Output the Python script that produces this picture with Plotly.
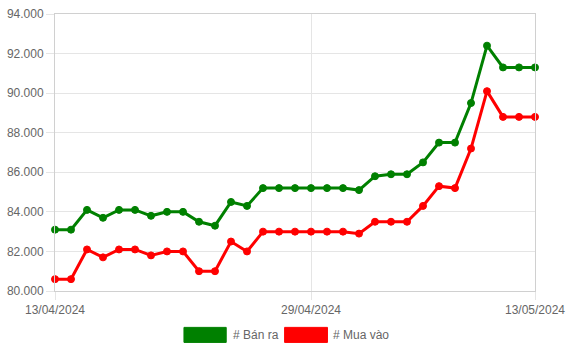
import pandas as pd
import plotly.graph_objects as go

dates = pd.date_range("2024-04-13", "2024-05-13", freq="D")

ban_ra = [83100, 83100, 84100, 83700, 84100, 84100, 83800, 84000, 84000, 83500,
          83300, 84500, 84300, 85200, 85200, 85200, 85200, 85200, 85200, 85100,
          85800, 85900, 85900, 86500, 87500, 87500, 89500, 92400, 91300, 91300, 91300]
mua_vao = [80600, 80600, 82100, 81700, 82100, 82100, 81800, 82000, 82000, 81000,
           81000, 82500, 82000, 83000, 83000, 83000, 83000, 83000, 83000, 82900,
           83500, 83500, 83500, 84300, 85300, 85200, 87200, 90100, 88800, 88800, 88800]

x_tick_vals = ["2024-04-13", "2024-04-29", "2024-05-13"]
x_tick_text = ["13/04/2024", "29/04/2024", "13/05/2024"]
series_names = ["# Bán ra", "# Mua vào"]
series_colors = ["#008000", "#ff0000"]

FONT = "Liberation Sans, Arial, Helvetica, sans-serif"
GRID = "#e5e5e5"
AXIS = "#d0d0d0"

fig = go.Figure()
for name, vals, col in zip(series_names, [ban_ra, mua_vao], series_colors):
    fig.add_trace(go.Scatter(
        x=dates, y=vals, name=name, mode="lines+markers",
        line=dict(color=col, width=3),
        marker=dict(color=col, size=7, line=dict(color=col, width=1)),
        showlegend=False, cliponaxis=False,
    ))

# Plot area geometry (pixels)
L, R, T, B = 53, 34, 7, 61
W, H = 572, 352
pw, ph = W - L - R, H - T - B

def px_x(x):
    return (x - L) / pw

def px_y(y):
    return (H - B - y) / ph

shapes = []
annotations = []
legend_items = [
    (183.3, 226.0, 231.0),
    (285.0, 328.3, 331.7),
]
for (bx0, bx1, tx), name, col in zip(legend_items, series_names, series_colors):
    shapes.append(dict(type="rect", xref="paper", yref="paper",
                       x0=px_x(bx0), x1=px_x(bx1), y0=px_y(343.7), y1=px_y(328.3),
                       fillcolor=col, line=dict(color=col, width=1), opacity=1))
    annotations.append(dict(xref="paper", yref="paper", x=px_x(tx), y=px_y(336),
                            text=name, showarrow=False, xanchor="left", yanchor="middle",
                            font=dict(family=FONT, size=12, color="#666666")))

fig.update_layout(
    width=W, height=H,
    margin=dict(l=L, r=R, t=T, b=B, pad=0),
    paper_bgcolor="white", plot_bgcolor="white",
    separators=",.",
    font=dict(family=FONT, size=12, color="#666666"),
    shapes=shapes, annotations=annotations,
    showlegend=False,
)
fig.update_xaxes(
    type="date", range=["2024-04-13", "2024-05-13"],
    tickvals=x_tick_vals, ticktext=x_tick_text,
    showgrid=True, gridcolor=GRID, gridwidth=1,
    showline=True, linecolor=AXIS, linewidth=1, mirror=True,
    ticks="outside", ticklen=8, tickcolor=GRID,
    tickfont=dict(family=FONT, size=12, color="#666666"),
    zeroline=False, fixedrange=True,
)
fig.update_yaxes(
    range=[80000, 94000], dtick=2000, tick0=80000,
    tickformat=",.0f",
    showgrid=True, gridcolor=GRID, gridwidth=1,
    showline=True, linecolor=AXIS, linewidth=1, mirror=True,
    ticks="outside", ticklen=8, tickcolor=GRID,
    tickfont=dict(family=FONT, size=12, color="#666666"),
    zeroline=False, fixedrange=True,
)

fig.write_html("out.html")
